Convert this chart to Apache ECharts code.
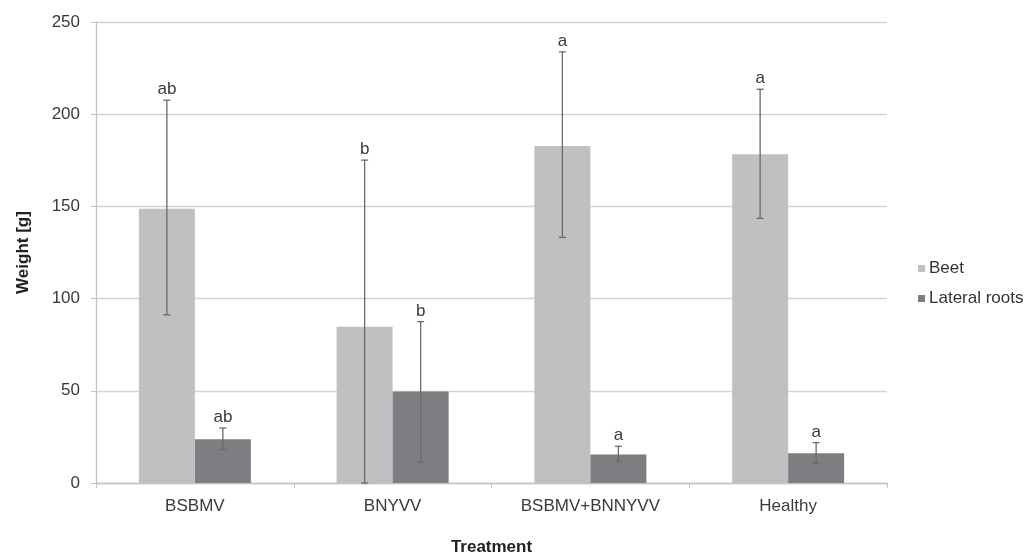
<!DOCTYPE html>
<html>
<head>
<meta charset="utf-8">
<script src="https://cdn.jsdelivr.net/npm/echarts@6/dist/echarts.min.js"></script>
<style>html,body{margin:0;padding:0;background:#fff;}#c{width:1024px;height:553px;}</style>
</head>
<body>
<div id="c"></div>
<script>
const categories = ['BSBMV', 'BNYVV', 'BSBMV+BNNYVV', 'Healthy'];
const beet = [148.7, 84.8, 182.8, 178.3];
const beetErrLow = [91.2, 0, 133.2, 143.5];
const beetErrHigh = [207.6, 175.1, 233.8, 213.5];
const beetLetters = ['ab', 'b', 'a', 'a'];
const lateral = [23.7, 49.6, 15.4, 16.1];
const lateralErrLow = [18.1, 11.4, 11.8, 10.5];
const lateralErrHigh = [29.8, 87.5, 19.9, 21.9];
const lateralLetters = ['ab', 'b', 'a', 'a'];
const yTicks = [0, 50, 100, 150, 200, 250];

const FONT = '"Liberation Sans", Arial, sans-serif';
const BAR_W = 56;

function errData(lo, hi, letters) {
  return categories.map((c, i) => [i, lo[i], hi[i], letters[i]]);
}
function errSeries(lo, hi, letters, offset) {
  return {
    type: 'custom',
    data: errData(lo, hi, letters),
    encode: { x: 0, y: [1, 2] },
    z: 10,
    silent: true,
    renderItem: function (params, api) {
      const i = api.value(0);
      const pLo = api.coord([i, api.value(1)]);
      const pHi = api.coord([i, api.value(2)]);
      const x = pLo[0] + offset * BAR_W / 2;
      const cap = 3.5;
      const st = { stroke: '#6a6a6a', lineWidth: 1.3 };
      return {
        type: 'group',
        children: [
          { type: 'line', shape: { x1: x, y1: pHi[1], x2: x, y2: pLo[1] }, style: st },
          { type: 'line', shape: { x1: x - cap, y1: pHi[1], x2: x + cap, y2: pHi[1] }, style: st },
          { type: 'line', shape: { x1: x - cap, y1: pLo[1], x2: x + cap, y2: pLo[1] }, style: st },
          { type: 'text', style: { x: x, y: pHi[1] - 2, text: letters[i], fill: '#3a3a3a',
              font: '17px ' + FONT, textAlign: 'center', textVerticalAlign: 'bottom' } }
        ]
      };
    }
  };
}

const chart = echarts.init(document.getElementById('c'));
chart.setOption({
  animation: false,
  backgroundColor: '#fff',
  textStyle: { fontFamily: FONT },
  grid: { left: 96, right: 137, top: 22, bottom: 70, containLabel: false, outerBoundsMode: 'none' },
  legend: {
    orient: 'vertical', left: 913, top: 255,
    itemWidth: 7, itemHeight: 7, itemGap: 13, icon: 'rect',
    data: ['Beet', 'Lateral roots'],
    textStyle: { fontSize: 17, color: '#333', fontFamily: FONT, padding: [0, 0, 0, -1] }
  },
  xAxis: {
    type: 'category', data: categories,
    name: 'Treatment', nameLocation: 'middle', nameGap: 56,
    nameTextStyle: { fontSize: 17, fontWeight: 'bold', color: '#222', fontFamily: FONT },
    axisLine: { lineStyle: { color: '#c4c4c4', width: 1.3 } },
    axisTick: { show: true, length: 5, lineStyle: { color: '#c4c4c4' } },
    axisLabel: { fontSize: 17, color: '#3a3a3a', margin: 15, fontFamily: FONT }
  },
  yAxis: {
    type: 'value', min: 0, max: 250, interval: 50,
    name: 'Weight [g]', nameLocation: 'middle', nameGap: 64,
    nameTextStyle: { fontSize: 17, fontWeight: 'bold', color: '#222', fontFamily: FONT },
    axisLine: { show: true, lineStyle: { color: '#c4c4c4', width: 1.3 } },
    axisTick: { show: true, length: 5, lineStyle: { color: '#c4c4c4' } },
    axisLabel: { fontSize: 17, color: '#3a3a3a', margin: 16, fontFamily: FONT,
      formatter: v => yTicks.includes(v) ? String(v) : '' },
    splitLine: { lineStyle: { color: '#d4d4d4', width: 1.3 } }
  },
  series: [
    { name: 'Beet', type: 'bar', data: beet, barWidth: BAR_W, barGap: '0%',
      itemStyle: { color: '#bfc0c2' } },
    { name: 'Lateral roots', type: 'bar', data: lateral, barWidth: BAR_W, barGap: '0%',
      itemStyle: { color: '#7d7e81' } },
    errSeries(beetErrLow, beetErrHigh, beetLetters, -1),
    errSeries(lateralErrLow, lateralErrHigh, lateralLetters, 1)
  ]
});
</script>
</body>
</html>
